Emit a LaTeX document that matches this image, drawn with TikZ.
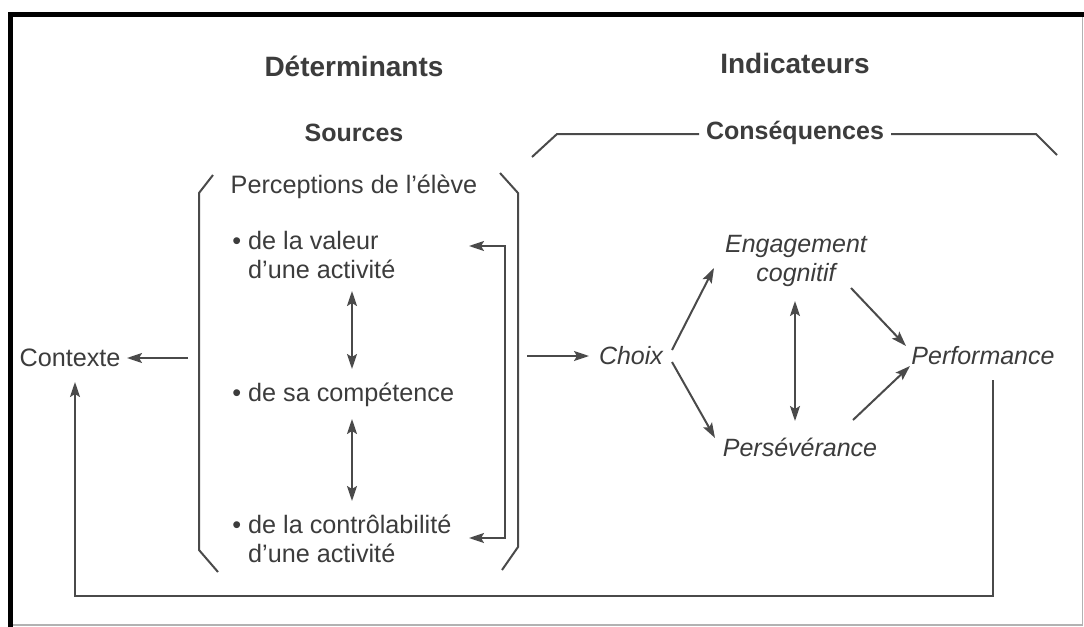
\documentclass[tikz,border=0pt]{standalone}
\usepackage{fontspec}
\setmainfont{Liberation Sans}
\usetikzlibrary{arrows.meta}
\definecolor{ink}{HTML}{3C3C3C}
\definecolor{lnc}{HTML}{4A4A4A}
\begin{document}
\begin{tikzpicture}[x=0.5pt,y=-0.5pt,
  txt/.style={text=ink, inner sep=0pt, font=\fontsize{12.6}{14.5}\selectfont},
  head/.style={text=ink, inner sep=0pt, font=\fontsize{14}{16}\selectfont\bfseries},
  sub/.style={text=ink, inner sep=0pt, font=\fontsize{12.5}{14.5}\selectfont\bfseries},
  itx/.style={text=ink, inner sep=0pt, font=\fontsize{12.5}{14.5}\selectfont\itshape},
  lns/.style={draw=lnc, line width=1pt},
  arr/.style={lns, -{Stealth[length=7.5pt,width=5pt,inset=1.5pt]}},
  darr/.style={lns, {Stealth[length=7.5pt,width=5pt,inset=1.5pt]}-{Stealth[length=7.5pt,width=5pt,inset=1.5pt]}},
]
\useasboundingbox (0,0) rectangle (1084,627);
\fill[white] (0,0) rectangle (1084,627);
% frame
\draw[black, line width=2.6pt] (8,14.5) -- (1084,14.5);
\draw[black, line width=2.6pt] (10.5,12) -- (10.5,627);
\draw[gray!60, line width=0.6pt] (1082.5,17) -- (1082.5,625) -- (13,625);

% headings
\node[head] (det) at (354,66) {Déterminants};
\node[head] (ind) at (795,63) {Indicateurs};
\node[sub] (src) at (354,133) {Sources};
\node[sub] (cons) at (795,133) {Conséquences};

% consequences bracket line
\draw[lns] (532,157) -- (557,134) -- (699,134);
\draw[lns] (891,134) -- (1036,134) -- (1057,155);

% perception bracket
\draw[lns] (213,175) -- (199,193) -- (199,550) -- (218,572);
\draw[lns] (500,173) -- (518,193) -- (518,547) -- (502,570);

\node[txt] (perc) at (354,187) {Perceptions de l’élève};
\node[txt, anchor=west, align=left] (val) at (232,255) {\textbullet\ de la valeur\\\phantom{\textbullet\ }d’une activité};
\node[txt, anchor=west] (comp) at (232,395) {\textbullet\ de sa compétence};
\node[txt, anchor=west, align=left] (ctrl) at (232,539) {\textbullet\ de la contrôlabilité\\\phantom{\textbullet\ }d’une activité};

\node[txt] (ctx) at (70,358) {Contexte};
\node[itx] (choix) at (631,356) {Choix};
\node[itx, align=center] (eng) at (796,261) {Engagement\\cognitif};
\node[itx] (pers) at (800,447) {Persévérance};
\node[itx] (perf) at (983,356) {Performance};

% helper coordinates
\coordinate (a1) at (352,291);
\coordinate (a2) at (352,369);
\coordinate (a3) at (352,419);
\coordinate (a4) at (352,501);
\coordinate (vr) at (469,246);
\coordinate (fb1) at (505,246);
\coordinate (fb2) at (505,538);
\coordinate (cr) at (469,538);
\coordinate (lb) at (188,358);
\coordinate (rb) at (527,356);
\coordinate (chw) at (589,356);
\coordinate (ch1) at (672,350);
\coordinate (ch2) at (672,362);
\coordinate (e1) at (714,268);
\coordinate (p1) at (715,438);
\coordinate (e2) at (795,301);
\coordinate (p2) at (795,421);
\coordinate (e3) at (851,288);
\coordinate (pf1) at (906,346);
\coordinate (p3) at (853,420);
\coordinate (pf2) at (910,366);
\coordinate (pf3) at (993,380);
\coordinate (l1) at (993,596);
\coordinate (l2) at (75,596);
\coordinate (cx) at (75,382);
\coordinate (cxe) at (127,358);

% arrows
\draw[darr] (a1) -- (a2);
\draw[darr] (a3) -- (a4);
\draw[darr] (vr) -- (fb1) -- (fb2) -- (cr);
\draw[arr] (lb) -- (cxe);
\draw[arr] (rb) -- (chw);
\draw[arr] (ch1) -- (e1);
\draw[arr] (ch2) -- (p1);
\draw[darr] (e2) -- (p2);
\draw[arr] (e3) -- (pf1);
\draw[arr] (p3) -- (pf2);
\draw[arr] (pf3) -- (l1) -- (l2) -- (cx);
\end{tikzpicture}
\end{document}
